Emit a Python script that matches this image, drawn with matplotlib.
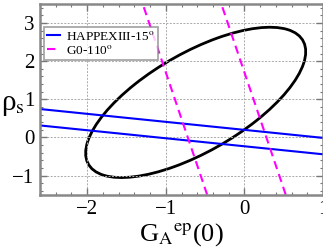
import numpy as np
import matplotlib.pyplot as plt
from matplotlib.patches import Ellipse
from matplotlib.ticker import MultipleLocator

# HAPPEXIII-15 deg bands: rho_s = intercept + slope * G
happex_intercepts = [0.20, -0.23]
happex_slope = -0.21

# G0-110 deg bands: rho_s = slope * (G - G0)
g0_crossings = [-0.72, 0.28]
g0_slope = -6.1

# 1-sigma ellipse: center, half extents, correlation
ell_center = (-0.62, 0.92)
ell_sigma = (1.40, 1.97)
ell_corr = 0.675

plt.rcParams['font.family'] = ['Liberation Serif', 'DejaVu Serif']
plt.rcParams['mathtext.fontset'] = 'stix'

fig = plt.figure(figsize=(3.23, 2.49), dpi=100)
ax = fig.add_axes([0.124, 0.218, 0.876, 0.766])

x = np.linspace(-2.6, 1.0, 50)
for i, b in enumerate(happex_intercepts):
    ax.plot(x, b + happex_slope * x, color='#0000ff', lw=1.5,
            label='HAPPEXIII-15$^{\\rm o}$' if i == 0 else None)

yy = np.linspace(-1.5, 3.5, 50)
for i, g0 in enumerate(g0_crossings):
    ax.plot(g0 + yy / g0_slope, yy, color='#ff00ff', lw=1.5, ls=(0, (4, 2.5)),
            label='G0-110$^{\\rm o}$' if i == 0 else None)

# ellipse from covariance
sx, sy = ell_sigma
cov = np.array([[sx**2, ell_corr * sx * sy], [ell_corr * sx * sy, sy**2]])
vals, vecs = np.linalg.eigh(cov)
angle = np.degrees(np.arctan2(vecs[1, 1], vecs[0, 1]))
ax.add_patch(Ellipse(ell_center, 2 * np.sqrt(vals[1]), 2 * np.sqrt(vals[0]),
                     angle=angle, fill=False, ec='black', lw=2))

ax.set_xlim(-2.6, 1.0)
ax.set_ylim(-1.5, 3.5)
ax.xaxis.set_major_locator(MultipleLocator(1))
ax.xaxis.set_minor_locator(MultipleLocator(0.2))
ax.yaxis.set_major_locator(MultipleLocator(1))
ax.yaxis.set_minor_locator(MultipleLocator(0.2))
ax.tick_params(which='both', direction='in', top=True, right=True,
               labelsize=15, color='#777777', pad=4)
ax.tick_params(which='major', length=5, width=1)
ax.tick_params(which='minor', length=2.5, width=0.8)
ax.grid(True, which='major', color='#aaaaaa', ls=(0, (2, 1.5)), lw=0.7)
for s in ax.spines.values():
    s.set_color('#888888')
    s.set_linewidth(1.8)

ax.set_xlabel('G$_{\\rm A}$$^{\\rm ep}$(0)', fontsize=19, labelpad=1)
# y label placed by hand so it clears the tick labels
fig.text(0.003, 0.58, 'ρ$_{\\rm s}$', fontsize=21, ha='left', va='center')

leg = ax.legend(loc='upper left', bbox_to_anchor=(0.0, 0.9), fontsize=9.5,
                frameon=True, fancybox=False, edgecolor='#888888',
                handlelength=1.0, handletextpad=0.5, borderpad=0.2,
                labelspacing=0.1, borderaxespad=0.3)
leg.get_frame().set_linewidth(1.2)

fig.savefig('out.png', dpi=100)
